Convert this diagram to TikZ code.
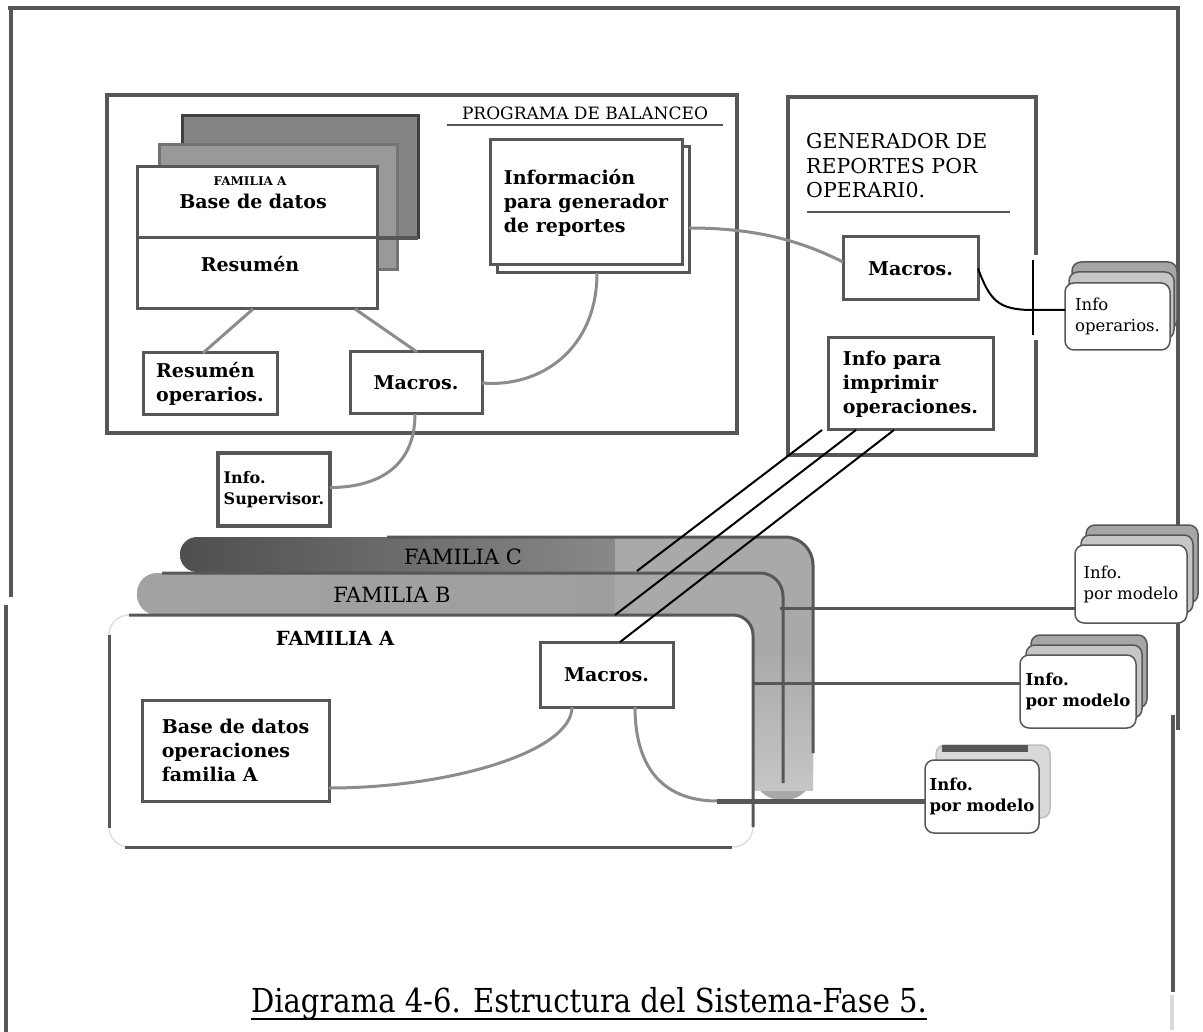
\documentclass[tikz,border=0pt]{standalone}
\usepackage{fontspec}
\setmainfont{DejaVu Serif}
\newfontfamily\capfont[FakeStretch=0.88]{DejaVu Serif}
\usetikzlibrary{calc}
\definecolor{lc}{HTML}{575757}
\definecolor{cc}{HTML}{8C8C8C}
\definecolor{cdark}{HTML}{4F4F4F}
\definecolor{cmid}{HTML}{8C8C8C}
\definecolor{bA}{HTML}{A2A2A2}
\definecolor{bM}{HTML}{878787}
\definecolor{bZ}{HTML}{9E9E9E}
\definecolor{patchc}{HTML}{A9A9A9}
\tikzset{
  box/.style={draw=lc, line width=3pt, fill=white, inner sep=0pt, outer sep=0pt, align=left},
  bigbox/.style={draw=lc, line width=4pt, inner sep=0pt, outer sep=0pt},
  bt/.style={font=\fontsize{19}{24}\selectfont\bfseries},
  conn/.style={draw=cc, line width=3pt},
  card/.style={draw=lc, line width=1.5pt, rounded corners=9pt, inner sep=0pt, outer sep=0pt, align=left},
  frame/.style={draw=lc, line width=4pt},
  edge/.style={draw=lc, line width=3pt},
}
\begin{document}
\begin{tikzpicture}[x=1pt,y=-1pt]
\useasboundingbox (0,0) rectangle (1203,1032);
% outer frame
\draw[frame] (8,8) -- (1180,8);
\draw[frame] (11,6) -- (11,597);
\draw[frame] (6,605) -- (6,1032);
\draw[frame] (1178,6) -- (1178,730);
\draw[frame] (1173,715) -- (1173,992);
\draw[gray!30, line width=4pt] (1172,995) -- (1172,1030);

% ---------- PROGRAMA DE BALANCEO ----------
\node[bigbox, minimum width=630pt, minimum height=338pt] (prog) at (422,264) {};
\node[font=\fontsize{17}{20}\selectfont, inner sep=0pt] (progt) at (585,113) {PROGRAMA DE BALANCEO};
\draw[lc, line width=2pt] (447,125) -- (723,125);

\node[draw=black!75, line width=3pt, fill=black!48, inner sep=0pt, outer sep=0pt, minimum width=236pt, minimum height=122pt] (stk3) at (300,177) {};
\node[draw=black!55, line width=3pt, fill=gray!80, inner sep=0pt, outer sep=0pt, minimum width=238pt, minimum height=125pt] (stk2) at (278,207.5) {};
\node[box, minimum width=240pt, minimum height=71pt] (bd) at (257,202.5) {};
\node[box, minimum width=240pt, minimum height=71pt] (res) at (257,273.5) {};
\draw[lc, line width=4pt] (bd.south east) -- (stk3.south east);
\node[font=\fontsize{12}{14}\selectfont\bfseries, inner sep=0pt] (famAs) at (250,181) {FAMILIA A};
\node[bt, inner sep=0pt] (bdt) at (253,201) {Base de datos};
\node[bt, inner sep=0pt] (rest) at (250,264) {Resumén};

\node[draw=lc, line width=3pt, inner sep=0pt, outer sep=0pt, minimum width=192pt, minimum height=126pt] (infosh) at (593,210) {};
\node[box, bt, minimum width=192pt, minimum height=125pt] (info) at (586,202.5) {Información\\para generador\\de reportes};

\node[box, bt, minimum width=134pt, minimum height=62pt] (resop) at (210,384) {Resumén\\operarios.};
\node[box, bt, minimum width=132pt, minimum height=62pt] (macP) at (416,383) {Macros.};

\node[box, line width=3.5pt, font=\fontsize{16}{21}\selectfont\bfseries, minimum width=112pt, minimum height=73pt] (infosup) at (274,489.5) {Info.\\Supervisor.};

% ---------- GENERADOR ----------
\node[inner sep=0pt, outer sep=0pt, minimum width=248pt, minimum height=358pt] (gen) at (912,276) {};
\draw[frame] ($(gen.north east)+(0,158)$) -- (gen.north east) -- (gen.north west) -- (gen.south west) -- (gen.south east) -- ($(gen.south east)+(0,-115)$);
\draw[black, line width=1.5pt] ($(gen.north east)+(-3,163)$) -- ($(gen.south east)+(-3,-120)$);
\node[font=\fontsize{20.5}{24.5}\selectfont, align=left, anchor=west, inner sep=0pt] (gent) at (806,166) {GENERADOR DE\\REPORTES POR\\OPERARI0.};
\draw[lc, line width=2pt] (807,212) -- (1010,212);
\node[box, bt, minimum width=135pt, minimum height=63pt] (macG) at (910.5,268.5) {Macros.};
\node[box, bt, minimum width=165pt, minimum height=92pt] (imp) at (910.5,384) {Info para\\imprimir\\operaciones.};

% Info operarios cards
\node[card, fill=gray!70, minimum width=105pt, minimum height=67pt] (op3) at (1124.5,295.5) {};
\node[card, fill=gray!45, minimum width=105pt, minimum height=67pt] (op2) at (1121.5,305.5) {};
\node[card, fill=white, font=\fontsize{16.5}{21}\selectfont, minimum width=105pt, minimum height=67pt] (op) at (1117.5,316.5) {Info\\operarios.};
\coordinate (j1) at (1033,310);
\draw[black, line width=2pt] (macG.east) .. controls +(12,32) and +(-35,0) .. (j1) -- (op.west |- j1);

% ---------- FAMILIES ----------
\node[draw=gray!25, line width=1.5pt, rounded corners=20pt, inner sep=0pt, outer sep=0pt, minimum width=644pt, minimum height=232pt] (famA) at (431,731) {};
\shade[left color=cdark, right color=cmid, rounded corners=17pt] (180,537) rectangle (640,572);
\shade[left color=bA, middle color=bM, right color=bZ, rounded corners=20pt] (137,573) rectangle (640,615);
\fill[patchc] (615,537) rectangle (700,615);
\fill[patchc, rounded corners=28pt] (660,615) -- (660,537) -- (813,537) -- (813,800) -- (753,800) -- (753,615) -- cycle;
\shade[top color=patchc, bottom color=gray!45] (753,650) rectangle (813,790);
\fill[white, rounded corners=20pt] (600,615) -- (753,615) -- (753,700) -- (600,700) -- cycle;

\draw[edge, rounded corners=28pt] (387,537) -- (813,537) -- (813,753);
\draw[edge, rounded corners=23pt] (162,573) -- (783,573) -- (783,783);
\draw[edge, rounded corners=20pt] (129,615) -- (753,615) -- (753,827);
\draw[edge] (109,635) -- (109,828);
\draw[edge] (125,847) -- (732,847);

\node[font=\fontsize{21}{24}\selectfont, inner sep=0pt] (famCt) at (463,557) {FAMILIA C};
\node[font=\fontsize{21}{24}\selectfont, inner sep=0pt] (famBt) at (392,595) {FAMILIA B};
\node[font=\fontsize{19.5}{24}\selectfont\bfseries, inner sep=0pt] (famAt) at (335,638) {FAMILIA A};

\node[box, bt, minimum width=133pt, minimum height=65pt] (macA) at (606.5,674.5) {Macros.};
\node[box, bt, minimum width=187pt, minimum height=101pt] (bdops) at (235.5,750.5) {Base de datos\\operaciones\\familia A};

% Info por modelo cards
\node[card, fill=gray!70, minimum width=112pt, minimum height=78pt] (m1c) at (1142,564) {};
\node[card, fill=gray!45, minimum width=112pt, minimum height=78pt] (m1b) at (1137,574) {};
\node[card, fill=white, font=\fontsize{16.5}{21}\selectfont, minimum width=112pt, minimum height=78pt] (m1) at (1131,584) {Info.\\por modelo};

\node[card, fill=gray!70, minimum width=116pt, minimum height=73pt] (m2c) at (1089,671.5) {};
\node[card, fill=gray!45, minimum width=116pt, minimum height=73pt] (m2b) at (1084,681.5) {};
\node[card, fill=white, font=\fontsize{16.5}{21}\selectfont\bfseries, minimum width=116pt, minimum height=73pt] (m2) at (1078,691.5) {Info.\\por modelo};

\node[card, draw=gray!50, fill=gray!30, minimum width=114pt, minimum height=73pt] (m3b) at (993,781.5) {};
\draw[lc, line width=7pt] ($(m3b.north west)+(6,3)$) -- ($(m3b.north east)+(-22,3)$);
\node[card, fill=white, font=\fontsize{16.5}{21}\selectfont\bfseries, minimum width=114pt, minimum height=73pt] (m3) at (982,796.5) {Info.\\por modelo};

% ---------- connectors ----------
\draw[conn] ([xshift=-4pt]res.south) -- ([xshift=-7pt]resop.north);
\draw[conn] ([xshift=98pt]res.south) -- ([xshift=1pt]macP.north);
\draw[conn] ([xshift=4pt]infosh.south) .. controls +(0,75) and +(60,5) .. (macP.east);
\draw[conn] ([yshift=-18pt]infosh.east) .. controls +(70,0) and +(-40,-20) .. ([yshift=6.5pt]macG.west);
\draw[conn] ([xshift=-1pt]macP.south) .. controls +(0,55) and +(45,0) .. ([yshift=2pt]infosup.east);
\draw[conn] ([yshift=-37.5pt]bdops.east) .. controls +(120,0) and +(0,45) .. ([xshift=-34.5pt]macA.south);
\coordinate (c3) at (717,801);
\draw[conn] ([xshift=28.5pt]macA.south) .. controls +(0,65) and +(-50,0) .. (c3);

% diagonal links from Info para imprimir
\draw[black, line width=2pt] ([xshift=-88.5pt]imp.south) -- (637,571);
\draw[black, line width=2pt] ([xshift=-54.5pt]imp.south) -- (615,615);
\draw[black, line width=2pt] ([xshift=-16.5pt]imp.south) -- ([xshift=13.5pt]macA.north);

% links to por modelo cards
\coordinate (p1) at (780,608);
\coordinate (p2) at (753,683);
\draw[lc, line width=3pt] (p1) -- (p1 -| m1.west);
\draw[lc, line width=3pt] (p2) -- (p2 -| m2.west);
\draw[lc, line width=5pt] (c3) -- (c3 -| m3.west);

% caption
\node[font=\capfont\fontsize{33}{38}\selectfont, inner sep=0pt, anchor=base] (cap) at (589,1012) {Diagrama 4-6. Estructura del Sistema-Fase 5.};
\draw[black, line width=1.8pt] ($(cap.base west)+(0,7)$) -- ($(cap.base east)+(0,7)$);
\end{tikzpicture}
\end{document}
